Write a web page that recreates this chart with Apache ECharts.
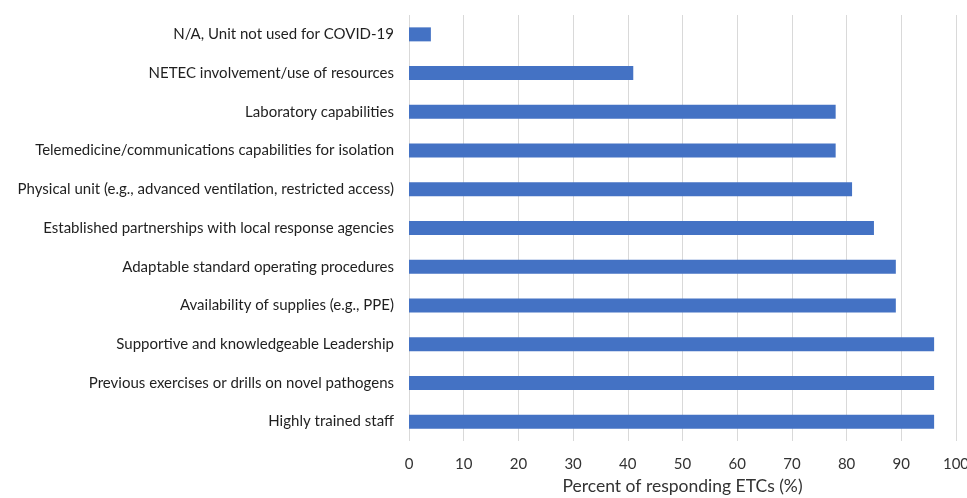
<!DOCTYPE html>
<html>
<head>
<meta charset="utf-8">
<script src="https://cdn.jsdelivr.net/npm/echarts@6/dist/echarts.min.js"></script>
<style>
  html, body { margin: 0; padding: 0; background: #fff; }
  #chart { width: 967px; height: 498px; }
</style>
</head>
<body>
<div id="chart"></div>
<script>
// Factors reported by ETCs, listed bottom-to-top as drawn on the category axis
const categories = [
  'Highly trained staff',
  'Previous exercises or drills on novel pathogens',
  'Supportive and knowledgeable Leadership',
  'Availability of supplies (e.g., PPE)',
  'Adaptable standard operating procedures',
  'Established partnerships with local response agencies',
  'Physical unit (e.g., advanced ventilation, restricted access)',
  'Telemedicine/communications capabilities for isolation',
  'Laboratory capabilities',
  'NETEC involvement/use of resources',
  'N/A, Unit not used for COVID-19'
];
const percentValues = [96, 96, 96, 89, 89, 85, 81, 78, 78, 41, 4];
const axisTitle = 'Percent of responding ETCs (%)';

const chart = echarts.init(document.getElementById('chart'));
const fontFamily = 'Lato, "Liberation Sans", sans-serif';

chart.setOption({
  animation: false,
  grid: {
    left: 409, right: 11, top: 15, bottom: 57,
    containLabel: false,
    outerBoundsMode: 'none'
  },
  xAxis: {
    type: 'value',
    min: 0,
    max: 100,
    interval: 10,
    name: axisTitle,
    nameLocation: 'middle',
    nameGap: 34,
    nameTextStyle: { color: '#333333', fontSize: 17.5, fontFamily },
    axisLine: { show: false },
    axisTick: { show: false },
    axisLabel: { color: '#333333', fontSize: 15, fontFamily, margin: 16 },
    splitLine: { show: true, lineStyle: { color: '#d9d9d9', width: 1 } }
  },
  yAxis: {
    type: 'category',
    data: categories,
    axisLine: { show: false },
    axisTick: { show: false },
    axisLabel: { color: '#1f1f1f', fontSize: 15, fontFamily, margin: 15 }
  },
  series: [{
    type: 'bar',
    data: percentValues,
    barWidth: 14,
    itemStyle: { color: '#4472C4' }
  }]
});
</script>
</body>
</html>
